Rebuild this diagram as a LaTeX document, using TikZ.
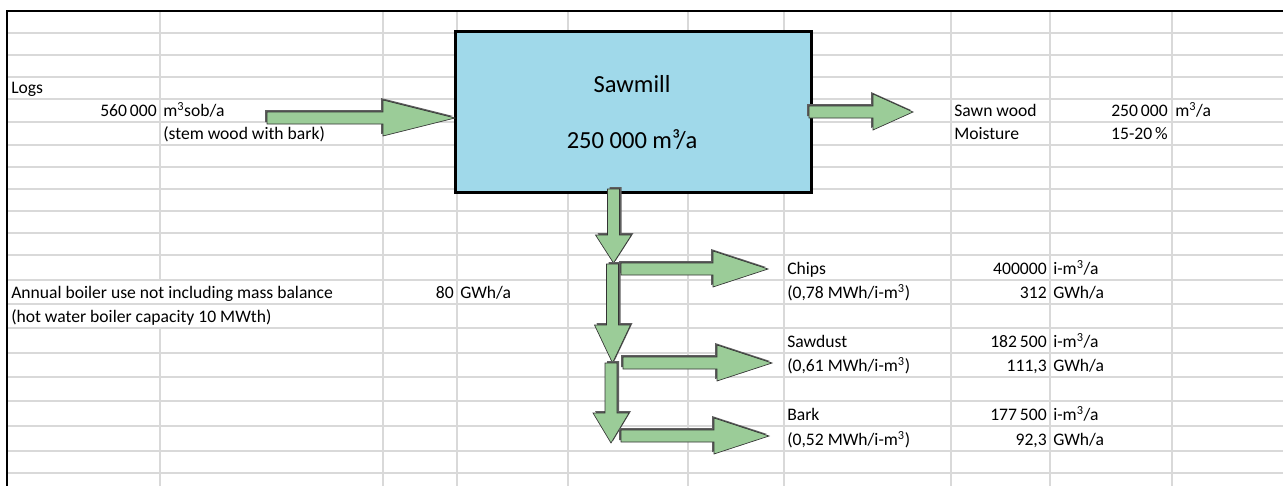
\documentclass[tikz,border=0pt]{standalone}
\usepackage{fontspec}
\setmainfont{Carlito}
\usetikzlibrary{positioning}

\definecolor{gridgray}{RGB}{217,217,217}
\definecolor{millblue}{RGB}{160,217,234}
\definecolor{flowgreen}{RGB}{155,204,152}
\definecolor{shadegray}{RGB}{95,95,95}

\tikzset{
  cell/.style={inner sep=0pt,anchor=base west,font=\fontsize{13.2}{15}\selectfont},
  num/.style={inner sep=0pt,anchor=base east,font=\fontsize{13.2}{15}\selectfont},
  flowshade/.style={fill=shadegray},
  flowbody/.style={fill=flowgreen,draw=black!80,line width=0.5pt},
}

% block arrows in pixel units
\newcommand{\flowright}[4]{% tail x, head x, tip x, centre y
  \foreach \sx/\sy/\look in {-2/-2/flowshade,0/0/flowbody}{%
    \path[\look,shift={(\sx,\sy)}] (#1,#4-6) -- (#2,#4-6) -- (#2,#4-18) -- (#3,#4)
      -- (#2,#4+18) -- (#2,#4+6) -- (#1,#4+6) -- cycle;}}
\newcommand{\flowdown}[4]{% centre x, tail y, head y, tip y
  \foreach \sx/\sy/\look in {2/-2/flowshade,0/0/flowbody}{%
    \path[\look,shift={(\sx,\sy)}] (#1-6,#2) -- (#1-6,#3) -- (#1-18,#3) -- (#1,#4)
      -- (#1+18,#3) -- (#1+6,#3) -- (#1+6,#2) -- cycle;}}

\begin{document}
\begin{tikzpicture}[x=0.75pt,y=-0.75pt]
  \useasboundingbox (0,0) rectangle (1283,486);

  % sheet grid
  \foreach \r in {33,55,77,99,122,145,167,189,211,233,255,280,304,328,353,377,401,426,451,473}
    \draw[gridgray,line width=0.9pt] (7,\r) -- (1283,\r);
  \foreach \c in {383,457,568,688,784,951,1050,1172}
    \draw[gridgray,line width=0.9pt] (\c,11) -- (\c,486);
  \draw[gridgray,line width=0.9pt] (160,11) -- (160,280) (160,328) -- (160,486);
  \draw[black,line width=1.6pt] (7,486) -- (7,11) -- (1283,11);

  % sawmill box
  \node[draw=black,line width=1.9pt,fill=millblue,minimum width=267pt,minimum height=121pt,inner sep=0pt] (sawmill) at (633.5,112) {};
  \node[inner sep=0pt,anchor=base,font=\fontsize{18.4}{22}\selectfont] (millname) at (632,92) {Sawmill};
  \node[inner sep=0pt,anchor=base,font=\fontsize{18.4}{22}\selectfont] (millcap) at (632,148) {250 000 m³/a};

  % flows
  \flowright{267}{383}{455}{118}
  \flowright{809}{873}{913}{112}
  \flowdown{613.5}{189}{235}{263}
  \flowdown{612.5}{264}{325}{363}
  \flowdown{611}{363}{413}{443}
  \flowright{621}{713}{768}{269}
  \flowright{623}{717}{772}{363}
  \flowright{621}{714}{769}{436}

  % input
  \node[cell] (logs) at (11,93) {Logs};
  \node[num] (logsval) at (157,116) {560\,000};
  \node[cell] (logsunit) at (163,116) {m\textsuperscript{3}sob/a};
  \node[cell] (logsnote) at (163,139) {(stem wood with bark)};

  % sawn wood
  \node[cell] (sawn) at (954,116) {Sawn wood};
  \node[num] (sawnval) at (1168,116) {250\,000};
  \node[cell] (sawnunit) at (1175,116) {m\textsuperscript{3}/a};
  \node[cell] (moist) at (954,139) {Moisture};
  \node[num] (moistval) at (1168,139) {15-20\,\%};

  % boiler
  \node[cell] (boiler) at (11,298) {Annual boiler use not including mass balance};
  \node[num] (boilerval) at (454,298) {80};
  \node[cell] (boilerunit) at (460,298) {GWh/a};
  \node[cell] (boilernote) at (11,322) {(hot water boiler capacity 10 MWth)};

  % by-products
  \node[cell] (chips) at (787,274) {Chips};
  \node[num] (chipsval) at (1047,274) {400000};
  \node[cell] (chipsunit) at (1053,274) {i-m\textsuperscript{3}/a};
  \node[cell] (chipsheat) at (787,298) {(0,78 MWh/i-m\textsuperscript{3})};
  \node[num] (chipsgwh) at (1047,298) {312};
  \node[cell] (chipsgunit) at (1053,298) {GWh/a};

  \node[cell] (dust) at (787,347) {Sawdust};
  \node[num] (dustval) at (1047,347) {182\,500};
  \node[cell] (dustunit) at (1053,347) {i-m\textsuperscript{3}/a};
  \node[cell] (dustheat) at (787,371) {(0,61 MWh/i-m\textsuperscript{3})};
  \node[num] (dustgwh) at (1047,371) {111,3};
  \node[cell] (dustgunit) at (1053,371) {GWh/a};

  \node[cell] (bark) at (787,420) {Bark};
  \node[num] (barkval) at (1047,420) {177\,500};
  \node[cell] (barkunit) at (1053,420) {i-m\textsuperscript{3}/a};
  \node[cell] (barkheat) at (787,445) {(0,52 MWh/i-m\textsuperscript{3})};
  \node[num] (barkgwh) at (1047,445) {92,3};
  \node[cell] (barkgunit) at (1053,445) {GWh/a};
\end{tikzpicture}
\end{document}
